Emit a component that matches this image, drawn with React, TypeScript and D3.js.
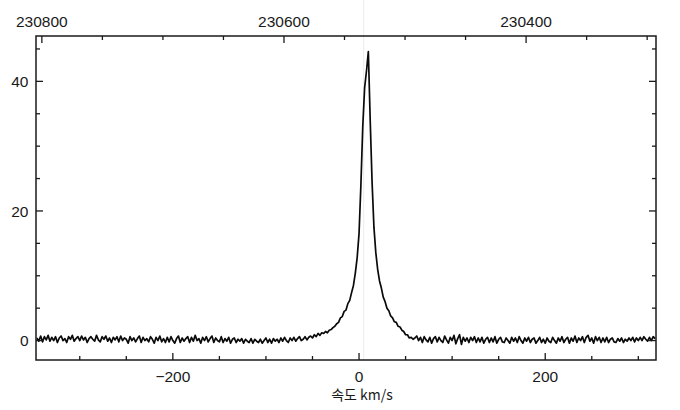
import React from "react";
import * as d3 from "d3";

// Spectrum channels: velocity of the first channel and channel spacing (km/s)
const velocityStart = -346;
const velocityStep = 2;

// Intensity per channel
const intensity: number[] = [
  // -346 .. -62
  0.4, -0.1, 0.7, -0.2, 0.6, 0.1, 0.8, -0.1, 0.5, 0.0,
  0.6, -0.3, 0.4, 0.7, 0.0, 0.3, -0.3, 0.6, 0.2, 0.8,
  -0.1, 0.3, 0.6, 0.0, 0.7, 0.1, 0.5, -0.3, 0.3, 0.6,
  0.2, -0.1, 0.8, 0.1, -0.2, 0.6, 0.2, 0.7, -0.1, 0.4,
  -0.3, 0.5, 0.1, 0.6, -0.2, 0.7, 0.0, 0.4, 0.2, -0.4,
  0.6, 0.0, 0.4, -0.2, 0.3, 0.7, -0.3, 0.5, 0.0, 0.3,
  -0.2, 0.6, 0.2, -0.4, 0.5, 0.0, 0.7, -0.2, 0.3, -0.3,
  0.5, -0.2, 0.6, 0.0, -0.4, 0.3, 0.7, -0.3, 0.4, -0.1,
  0.3, 0.6, -0.3, 0.5, -0.1, 0.8, 0.0, 0.3, -0.4, 0.5,
  0.0, 0.6, -0.2, 0.3, 0.7, -0.3, 0.4, 0.0, -0.2, 0.6,
  -0.3, 0.3, -0.1, 0.5, -0.4, 0.2, 0.4, -0.3, 0.2, -0.1,
  0.3, -0.4, 0.2, -0.1, -0.3, 0.3, -0.4, 0.2, -0.1, -0.3,
  0.2, -0.4, 0.0, 0.4, -0.3, 0.2, -0.4, 0.3, -0.1, 0.2,
  -0.3, 0.4, -0.1, 0.5, 0.0, -0.3, 0.4, 0.0, 0.5, -0.1,
  0.3, 0.6, 0.0,
  // -60 .. 60
  0.2, 0.6, 0.1, 0.5, 0.7, 0.4, 0.9, 0.6, 1.1, 0.8,
  1.2, 1.1, 1.4, 1.2, 1.6, 1.7, 2.0, 2.2, 2.6, 2.8,
  3.5, 3.7, 4.5, 4.7, 5.7, 6.2, 7.4, 8.5, 10.4, 12.8,
  16.5, 24.0, 33.0, 39.0, 41.6, 44.6, 34.0, 24.5, 17.5, 13.6,
  11.0, 9.2, 8.1, 6.7, 6.0, 5.0, 4.6, 3.8, 3.5, 2.9,
  2.8, 2.2, 2.1, 1.6, 1.4, 0.9, 0.9, 0.4, 0.5, 0.2,
  0.4,
  // 62 .. 318
  0.7, 0.0, 0.5, -0.3, 0.6, 0.1, -0.2, 0.5, -0.4, 0.3,
  0.6, -0.2, 0.5, 0.0, -0.3, 0.7, 0.1, -0.4, 0.5, 0.0,
  0.8, -0.5, 0.3, 0.9, -0.6, 0.5, -0.1, 0.4, -0.3, 0.5,
  0.0, 0.6, -0.3, 0.4, -0.2, 0.5, -0.4, 0.2, 0.5, -0.3,
  0.4, -0.2, 0.6, -0.4, 0.2, 0.5, -0.2, -0.3, 0.4, 0.0,
  -0.4, 0.5, -0.1, 0.4, -0.3, 0.6, 0.0, -0.4, 0.4, -0.1,
  0.5, -0.3, 0.2, 0.4, -0.4, 0.0, 0.5, -0.3, 0.2, -0.4,
  0.4, -0.1, -0.3, 0.5, 0.0, -0.4, 0.4, -0.1, 0.6, -0.3,
  0.2, 0.5, -0.4, 0.4, -0.1, 0.7, -0.3, 0.4, 0.0, 0.6,
  -0.3, 0.5, 0.8, -0.1, 0.4, -0.4, 0.6, 0.0, 0.5, -0.3,
  0.4, -0.2, 0.5, -0.3, 0.2, 0.4, -0.2, -0.3, 0.3, -0.1,
  0.4, -0.3, 0.2, -0.1, 0.4, 0.0, 0.5, -0.2, 0.4, 0.0,
  0.5, 0.0, 0.6, 0.2, -0.1, 0.5, 0.0, 0.6, 0.3,
];

const velocityDomain = [-347, 319];
const intensityDomain = [-3, 47];
const velocityMajorTicks = [-200, 0, 200];
const velocityMinorTicks = [-300, -250, -150, -100, -50, 50, 100, 150, 250, 300];
const intensityMajorTicks = [0, 20, 40];
const intensityMinorTicks = [5, 10, 15, 25, 30, 35, 45];
const freqMajorTicks = [230800, 230600, 230400];
const freqMinorTicks = [230750, 230700, 230650, 230550, 230500, 230450, 230350, 230300];
const restFrequency = 230538.0; // MHz, CO(2-1)
const speedOfLight = 299792.458; // km/s
const xLabel = "속도 km/s";
const markerVelocity = 5;

const W = 680;
const H = 410;
const L = 36, R = 656, T = 36, B = 360;
const FONT = "'Liberation Sans', Arial, sans-serif";

export default function App() {
  const x = d3.scaleLinear().domain(velocityDomain).range([L, R]);
  const y = d3.scaleLinear().domain(intensityDomain).range([B, T]);
  const toFreq = (v: number) => restFrequency * (1 - v / speedOfLight);
  const xf = d3
    .scaleLinear()
    .domain([toFreq(velocityDomain[0]), toFreq(velocityDomain[1])])
    .range([L, R]);

  const pts = intensity.map((val, i) => [velocityStart + i * velocityStep, val] as [number, number]);
  const line = d3
    .line<[number, number]>()
    .x((d) => x(d[0]))
    .y((d) => y(d[1]));

  const major = 7;
  const minor = 4;
  const fmt = d3.format("");
  const tc = "#1a1a1a";

  return (
    <svg
      width={W}
      height={H}
      style={{ position: "absolute", left: 0, top: 0, background: "#fff" }}
    >
      <rect x={0} y={0} width={W} height={H} fill="#fff" />
      <line
        x1={x(markerVelocity)}
        x2={x(markerVelocity)}
        y1={0}
        y2={B}
        stroke="#ececec"
        strokeWidth={1}
      />
      <defs>
        <clipPath id="plotclip">
          <rect x={L} y={T} width={R - L} height={B - T} />
        </clipPath>
      </defs>
      <path
        d={line(pts) || ""}
        fill="none"
        stroke="#0a0a0a"
        strokeWidth={1.7}
        strokeLinejoin="round"
        clipPath="url(#plotclip)"
      />
      {/* frame */}
      <rect x={L} y={T} width={R - L} height={B - T} fill="none" stroke={tc} strokeWidth={1.5} />

      {/* bottom velocity ticks */}
      {velocityMajorTicks.map((t) => (
        <g key={"bM" + t}>
          <line x1={x(t)} x2={x(t)} y1={B} y2={B - major} stroke={tc} strokeWidth={1.3} />
          <text x={x(t)} y={382} textAnchor="middle" fontSize={15.5} fontFamily={FONT} fill={tc}>
            {d3.format("")(t)}
          </text>
        </g>
      ))}
      {velocityMinorTicks.map((t) => (
        <line key={"bm" + t} x1={x(t)} x2={x(t)} y1={B} y2={B - minor} stroke={tc} strokeWidth={1.3} />
      ))}

      {/* top frequency ticks */}
      {freqMajorTicks.map((t) => (
        <g key={"tM" + t}>
          <line x1={xf(t)} x2={xf(t)} y1={T} y2={T + major} stroke={tc} strokeWidth={1.3} />
          <text x={xf(t)} y={27} textAnchor="middle" fontSize={15.5} fontFamily={FONT} fill={tc}>
            {fmt(t)}
          </text>
        </g>
      ))}
      {freqMinorTicks.map((t) => (
        <line key={"tm" + t} x1={xf(t)} x2={xf(t)} y1={T} y2={T + minor} stroke={tc} strokeWidth={1.3} />
      ))}

      {/* left & right intensity ticks */}
      {intensityMajorTicks.map((t) => (
        <g key={"yM" + t}>
          <line x1={L} x2={L + major} y1={y(t)} y2={y(t)} stroke={tc} strokeWidth={1.3} />
          <line x1={R} x2={R - major} y1={y(t)} y2={y(t)} stroke={tc} strokeWidth={1.3} />
          <text
            x={28.5}
            y={y(t)}
            dy="0.36em"
            textAnchor="end"
            fontSize={15.5}
            fontFamily={FONT}
            fill={tc}
          >
            {fmt(t)}
          </text>
        </g>
      ))}
      {intensityMinorTicks.map((t) => (
        <g key={"ym" + t}>
          <line x1={L} x2={L + minor} y1={y(t)} y2={y(t)} stroke={tc} strokeWidth={1.3} />
          <line x1={R} x2={R - minor} y1={y(t)} y2={y(t)} stroke={tc} strokeWidth={1.3} />
        </g>
      ))}

      <text
        x={362}
        y={400}
        textAnchor="middle"
        fontSize={14}
        fontFamily="'Noto Sans CJK KR', 'Noto Sans', sans-serif"
        fill={tc}
      >
        {xLabel}
      </text>
    </svg>
  );
}
